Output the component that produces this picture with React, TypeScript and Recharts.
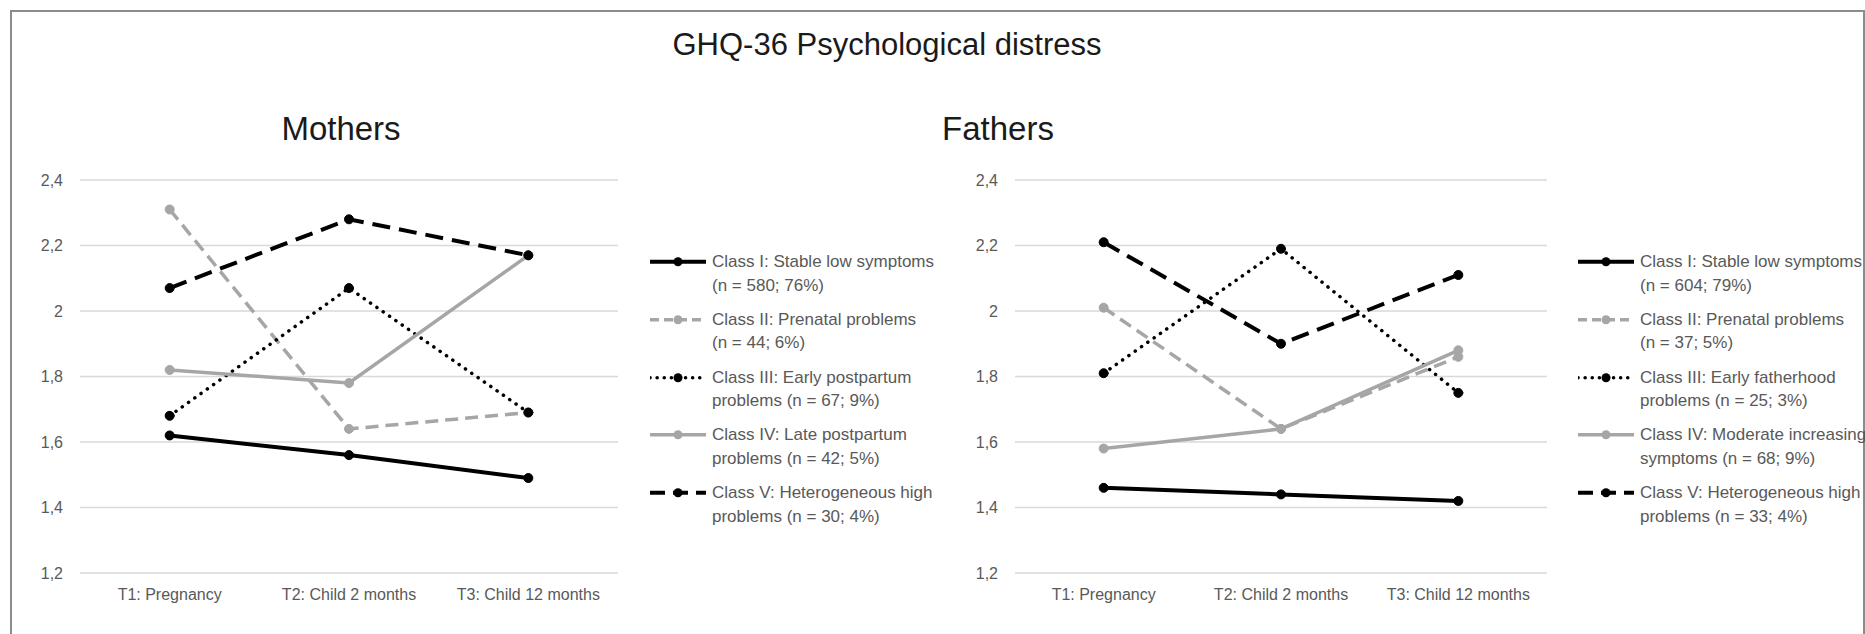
import { LineChart, Line, XAxis, YAxis, CartesianGrid, Legend } from 'recharts';

const timepoints = ['T1: Pregnancy', 'T2: Child 2 months', 'T3: Child 12 months'];
const yTicks = [1.2, 1.4, 1.6, 1.8, 2, 2.2, 2.4];

// mothers, GHQ-36 mean per class
const mothersClassI = [1.62, 1.56, 1.49];
const mothersClassII = [2.31, 1.64, 1.69];
const mothersClassIII = [1.68, 2.07, 1.69];
const mothersClassIV = [1.82, 1.78, 2.17];
const mothersClassV = [2.07, 2.28, 2.17];

// fathers
const fathersClassI = [1.46, 1.44, 1.42];
const fathersClassII = [2.01, 1.64, 1.86];
const fathersClassIII = [1.81, 2.19, 1.75];
const fathersClassIV = [1.58, 1.64, 1.88];
const fathersClassV = [2.21, 1.9, 2.11];

const mothersLabels = [
    ['Class I: Stable low symptoms', '(n = 580; 76%)'],
    ['Class II: Prenatal problems', '(n = 44; 6%)'],
    ['Class III: Early postpartum', 'problems (n = 67; 9%)'],
    ['Class IV: Late postpartum', 'problems (n = 42; 5%)'],
    ['Class V: Heterogeneous high', 'problems (n = 30; 4%)'],
];

const fathersLabels = [
    ['Class I: Stable low symptoms', '(n = 604; 79%)'],
    ['Class II: Prenatal problems', '(n = 37; 5%)'],
    ['Class III: Early fatherhood', 'problems (n = 25; 3%)'],
    ['Class IV: Moderate increasing', 'symptoms (n = 68; 9%)'],
    ['Class V: Heterogeneous high', 'problems (n = 33; 4%)'],
];

const seriesStyles = [
    { key: 'c1', color: '#000000', width: 4, dash: undefined, legendDash: undefined, cap: 'butt' },
    { key: 'c2', color: '#a6a6a6', width: 3.5, dash: '13 7', legendDash: '9 5', cap: 'butt' },
    { key: 'c3', color: '#000000', width: 3.5, dash: '0.1 7.6', legendDash: '0.1 7', cap: 'round' },
    { key: 'c4', color: '#a6a6a6', width: 3.5, dash: undefined, legendDash: undefined, cap: 'butt' },
    { key: 'c5', color: '#000000', width: 4, dash: '18 9', legendDash: '15 8', cap: 'butt' },
];

const fmt = (v: number) => String(v).replace('.', ',');

function buildRows(series: number[][]) {
    return timepoints.map((t, i) => {
        const row: Record<string, string | number> = { t };
        series.forEach((s, k) => {
            row[seriesStyles[k].key] = s[i];
        });
        return row;
    });
}

function LegendBox({ labels }: { labels: string[][] }) {
    return (
        <div style={{ display: 'flex', flexDirection: 'column', gap: 10.8 }}>
            {labels.map((lines, i) => {
                const s = seriesStyles[i];
                return (
                    <div key={s.key} style={{ display: 'flex', alignItems: 'flex-start' }}>
                        <svg width={56} height={23.5} style={{ flex: 'none' }}>
                            <line
                                x1={0}
                                x2={56}
                                y1={11.75}
                                y2={11.75}
                                stroke={s.color}
                                strokeWidth={s.width}
                                strokeDasharray={s.legendDash}
                                strokeLinecap={s.cap as any}
                            />
                            <circle cx={28} cy={11.75} r={4.5} fill={s.color} />
                        </svg>
                        <div
                            style={{
                                marginLeft: 6,
                                fontSize: 17,
                                lineHeight: '23.5px',
                                color: '#595959',
                                whiteSpace: 'nowrap',
                            }}
                        >
                            {lines[0]}
                            <br />
                            {lines[1]}
                        </div>
                    </div>
                );
            })}
        </div>
    );
}

interface PanelProps {
    left: number;
    width: number;
    marginLeft: number;
    marginRight: number;
    legendLeft: number;
    series: number[][];
    labels: string[][];
}

function Panel({ left, width, marginLeft, marginRight, legendLeft, series, labels }: PanelProps) {
    const data = buildRows(series);
    const plotW = width - marginLeft - marginRight - 60;
    const pad = plotW / 6;

    return (
        <div style={{ position: 'absolute', left, top: 150 }}>
            <LineChart
                width={width}
                height={484}
                data={data}
                margin={{ top: 30, right: marginRight, bottom: 31, left: marginLeft }}
            >
                <CartesianGrid vertical={false} stroke="#d9d9d9" strokeWidth={1.5} />
                <XAxis
                    dataKey="t"
                    axisLine={false}
                    tickLine={false}
                    interval={0}
                    height={30}
                    tickMargin={10}
                    padding={{ left: pad, right: pad }}
                    tick={{ fill: '#595959', fontSize: 16 }}
                />
                <YAxis
                    domain={[1.2, 2.4]}
                    ticks={yTicks}
                    width={60}
                    axisLine={false}
                    tickLine={false}
                    tickMargin={11}
                    tickFormatter={fmt}
                    tick={{ fill: '#595959', fontSize: 16 }}
                />
                <Legend
                    layout="vertical"
                    align="center"
                    verticalAlign="middle"
                    wrapperStyle={{ left: legendLeft, top: 100, width: 300 }}
                    content={() => <LegendBox labels={labels} />}
                />
                {seriesStyles.map((s) => (
                    <Line
                        key={s.key}
                        dataKey={s.key}
                        type="linear"
                        stroke={s.color}
                        strokeWidth={s.width}
                        strokeDasharray={s.dash}
                        strokeLinecap={s.cap as any}
                        dot={{ r: 4.5, fill: s.color, stroke: s.color, strokeWidth: 1, strokeDasharray: 'none' }}
                        activeDot={false}
                        isAnimationActive={false}
                    />
                ))}
            </LineChart>
        </div>
    );
}

export default function App() {
    return (
        <div
            style={{
                position: 'absolute',
                left: 0,
                top: 0,
                width: 1865,
                height: 634,
                overflow: 'hidden',
                background: '#ffffff',
                fontFamily: '"Liberation Sans", Arial, sans-serif',
            }}
        >
            <div
                style={{
                    position: 'absolute',
                    left: 10,
                    top: 10,
                    width: 1851,
                    height: 660,
                    border: '2px solid #8c8c8c',
                }}
            />
            <div
                style={{
                    position: 'absolute',
                    left: 887,
                    top: 29,
                    transform: 'translateX(-50%)',
                    fontSize: 31,
                    lineHeight: 1,
                    color: '#1a1a1a',
                    whiteSpace: 'nowrap',
                }}
            >
                GHQ-36 Psychological distress
            </div>
            <div
                style={{
                    position: 'absolute',
                    left: 341,
                    top: 112,
                    transform: 'translateX(-50%)',
                    fontSize: 33,
                    lineHeight: 1,
                    color: '#1a1a1a',
                }}
            >
                Mothers
            </div>
            <div
                style={{
                    position: 'absolute',
                    left: 998,
                    top: 112,
                    transform: 'translateX(-50%)',
                    fontSize: 33,
                    lineHeight: 1,
                    color: '#1a1a1a',
                }}
            >
                Fathers
            </div>

            <Panel
                left={0}
                width={930}
                marginLeft={20}
                marginRight={312}
                legendLeft={650}
                series={[mothersClassI, mothersClassII, mothersClassIII, mothersClassIV, mothersClassV]}
                labels={mothersLabels}
            />
            <Panel
                left={930}
                width={935}
                marginLeft={25}
                marginRight={318}
                legendLeft={648}
                series={[fathersClassI, fathersClassII, fathersClassIII, fathersClassIV, fathersClassV]}
                labels={fathersLabels}
            />
        </div>
    );
}
